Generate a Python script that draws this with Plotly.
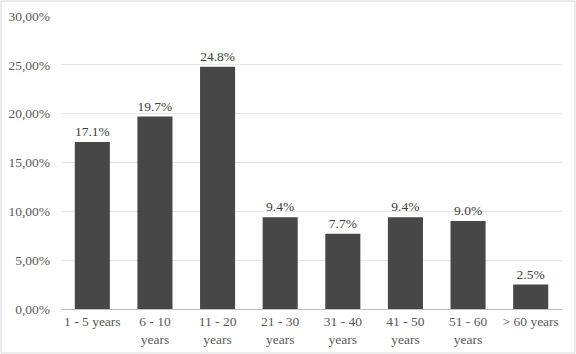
import plotly.graph_objects as go

categories = ["1 - 5 years", "6 - 10<br>years", "11 - 20<br>years", "21 - 30<br>years",
              "31 - 40<br>years", "41 - 50<br>years", "51 - 60<br>years", "> 60 years"]
values = [0.171, 0.197, 0.248, 0.094, 0.077, 0.094, 0.090, 0.025]
labels = ["17.1%", "19.7%", "24.8%", "9.4%", "7.7%", "9.4%", "9.0%", "2.5%"]
tick_vals = [0, 0.05, 0.10, 0.15, 0.20, 0.25, 0.30]

FONT = "Liberation Serif"

fig = go.Figure(go.Bar(
    x=categories, y=values, text=labels, textposition="outside",
    textfont=dict(family=FONT, size=13.5, color="#404040"),
    marker=dict(color="#474747", line=dict(width=0)),
    cliponaxis=False,
))

ml, mr, mt, mb = 61, 14, 16, 45
pw = 576 - ml - mr
ph = 354 - mt - mb

fig.update_layout(
    width=576, height=354,
    margin=dict(l=ml, r=mr, t=mt, b=mb, autoexpand=False),
    paper_bgcolor="white", plot_bgcolor="white",
    separators=",.",
    bargap=0.44,
    showlegend=False,
    font=dict(family=FONT, size=13.5, color="#595959"),
    xaxis=dict(showline=True, linecolor="#bfbfbf", linewidth=1, ticks="", automargin=False,
               tickfont=dict(family=FONT, size=13.5, color="#595959")),
    yaxis=dict(range=[0, 0.30], tickvals=tick_vals, tickformat=".2%", automargin=False,
               showgrid=True, gridcolor="#e6e6e6", gridwidth=1, zeroline=False,
               ticks="", ticklabelstandoff=10,
               tickfont=dict(family=FONT, size=13.5, color="#595959")),
    shapes=[dict(type="rect", xref="paper", yref="paper",
                 x0=(1 - ml) / pw, x1=(575 - ml) / pw,
                 y0=(354 - mb - 353) / ph, y1=(354 - mb - 1) / ph,
                 line=dict(color="#d9d9d9", width=1), fillcolor="rgba(0,0,0,0)")],
)

fig.write_html("out.html", config={"displayModeBar": False},
               post_script="document.body.style.margin='0';document.body.style.overflow='hidden';")
